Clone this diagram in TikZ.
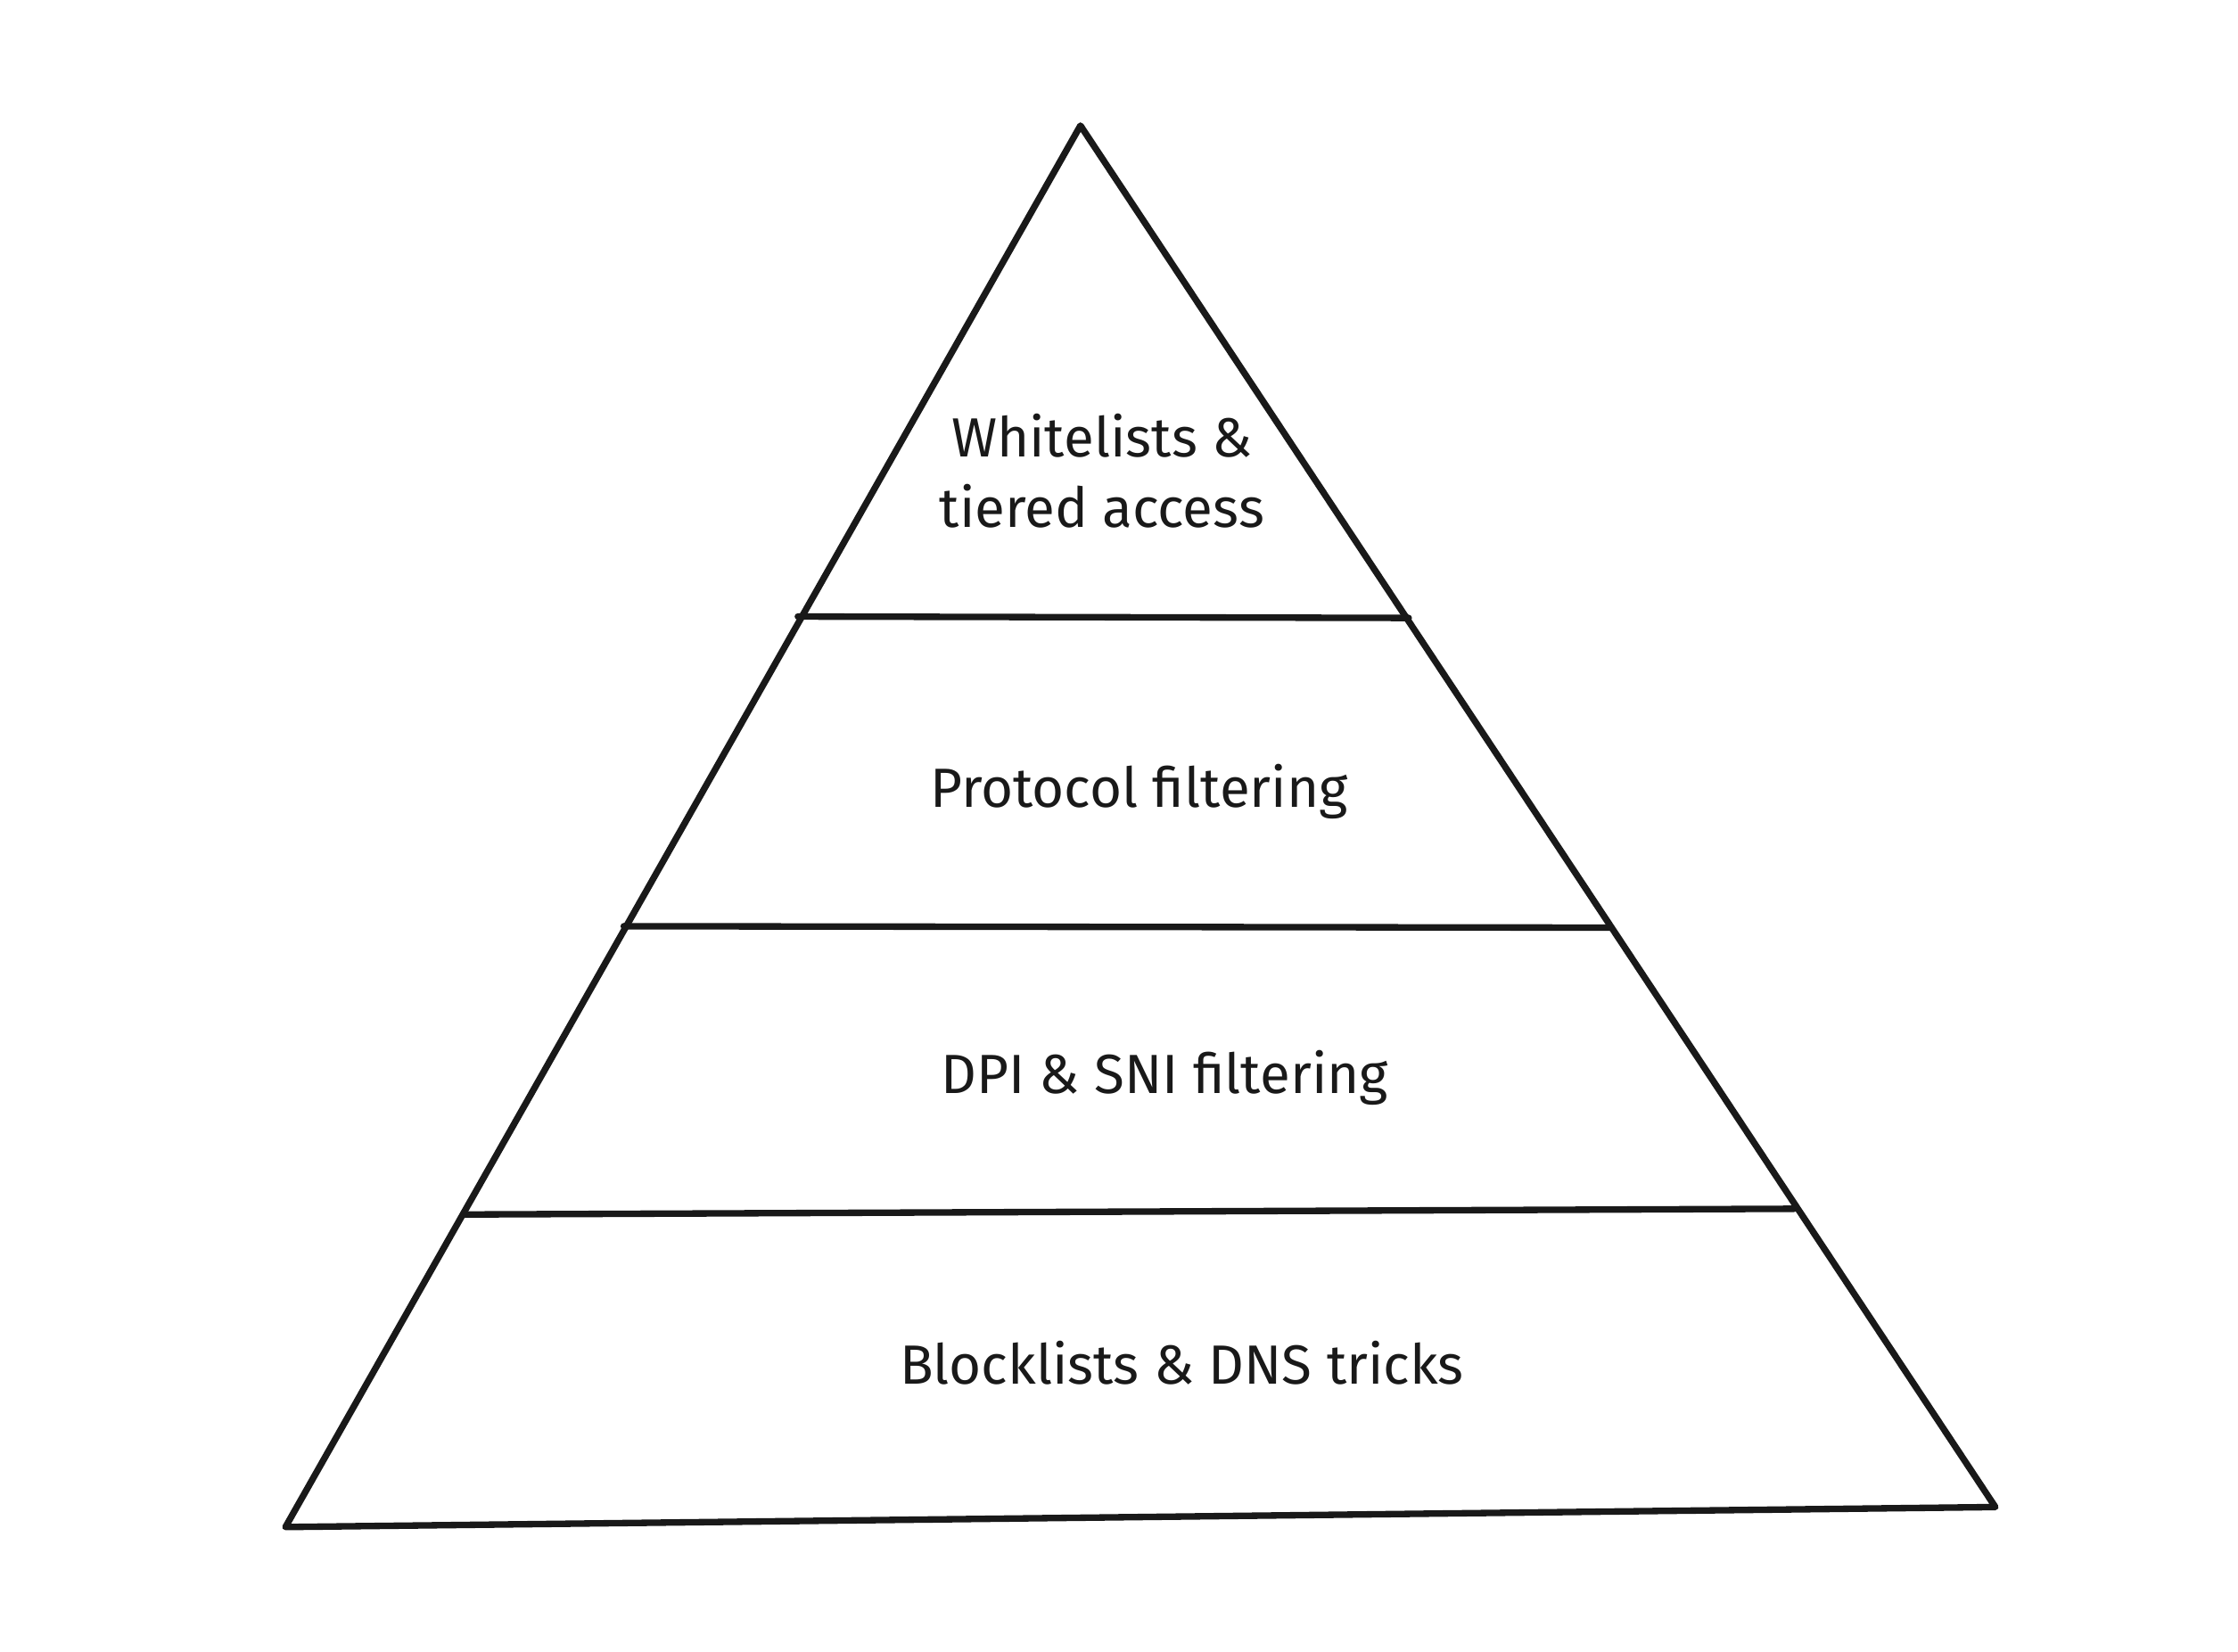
\documentclass[tikz,border=0pt]{standalone}
\usepackage{fontspec}
\setmainfont{Fira Sans}
\begin{document}
\begin{tikzpicture}[x=0.01cm,y=-0.01cm,
  edge/.style={line width=1.3pt,line join=round,line cap=round,black!90},
  lbl/.style={font=\fontsize{11pt}{14pt}\selectfont,align=center,text=black!90}]
\useasboundingbox (0,0) rectangle (1568,1157);
\coordinate (A) at (757,88);
\coordinate (BL) at (200,1070);
\coordinate (BR) at (1398,1056);
\coordinate (l1a) at (559,432); \coordinate (l1b) at (987,433);
\coordinate (l2a) at (437,649); \coordinate (l2b) at (1129,650);
\coordinate (l3a) at (325,851); \coordinate (l3b) at (1257,847);
\draw[edge] (A) -- (BR) -- (BL) -- cycle;
\draw[edge] (l1a) -- (l1b);
\draw[edge] (l2a) -- (l2b);
\draw[edge] (l3a) -- (l3b);
\node[lbl] (t1) at (772,330) {Whitelists \&\\tiered access};
\node[lbl] (t2) at (798,555) {Protocol filtering};
\node[lbl] (t3) at (816,755) {DPI \& SNI filtering};
\node[lbl] (t4) at (828,955) {Blocklists \& DNS tricks};
\end{tikzpicture}
\end{document}
